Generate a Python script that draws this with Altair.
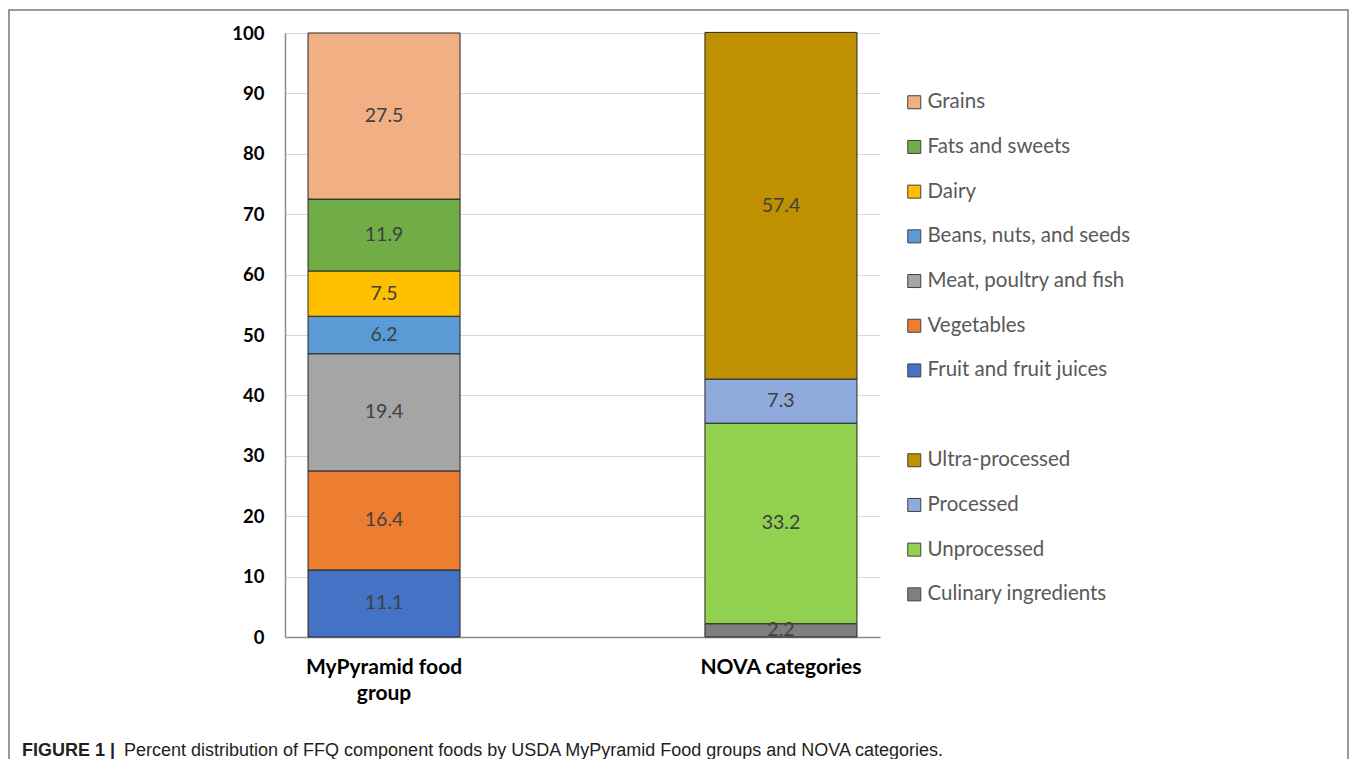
import altair as alt
import pandas as pd

# ---- data -------------------------------------------------------------
bar_labels = ["MyPyramid food group", "NOVA categories"]

pyr_groups = ["Fruit and fruit juices", "Vegetables", "Meat, poultry and fish",
              "Beans, nuts, and seeds", "Dairy", "Fats and sweets", "Grains"]
pyr_values = [11.1, 16.4, 19.4, 6.2, 7.5, 11.9, 27.5]
pyr_colors = ["#4472C4", "#ED7D31", "#A5A5A5", "#5B9BD5", "#FFC000", "#70AD47", "#F1AF84"]

nova_groups = ["Culinary ingredients", "Unprocessed", "Processed", "Ultra-processed"]
nova_values = [2.2, 33.2, 7.3, 57.4]
nova_colors = ["#7F7F7F", "#92D050", "#8FAADC", "#BF9000"]

y_ticks = [0, 10, 20, 30, 40, 50, 60, 70, 80, 90, 100]

caption_bold = "FIGURE 1 |"
caption_text = ("Percent distribution of FFQ component foods by USDA MyPyramid "
                "Food groups and NOVA categories.")

# ---- tables -------------------------------------------------------------
pyr_df = pd.DataFrame({"bar": bar_labels[0], "group": pyr_groups,
                       "value": pyr_values, "ord": list(range(len(pyr_groups)))})
nova_df = pd.DataFrame({"bar": bar_labels[1], "group": nova_groups,
                        "value": nova_values, "ord": list(range(len(nova_groups)))})
all_df = pd.concat([pyr_df, nova_df], ignore_index=True)

FONT = "Lato"

x_axis = alt.Axis(title=None, labelAngle=0, ticks=False, labelPadding=19,
                  labelFont=FONT, labelFontWeight="bold", labelFontSize=21,
                  labelColor="#000000", labelLineHeight=26,
                  domainColor="#8c8c8c", domainWidth=1.5, grid=False,
                  labelExpr="datum.value == 'MyPyramid food group' ? ['MyPyramid food', 'group'] : datum.value")
y_axis = alt.Axis(title=None, values=y_ticks, ticks=False, labelPadding=21,
                  labelFont=FONT, labelFontWeight="bold", labelFontSize=18.5,
                  labelColor="#000000", domainColor="#8c8c8c", domainWidth=1.5,
                  grid=True, gridColor="#d9d9d9", gridWidth=1)

x_enc = alt.X("bar:N", scale=alt.Scale(domain=bar_labels, paddingInner=0.617,
                                       paddingOuter=0.058), axis=x_axis)
y_scale = alt.Scale(domain=[0, 100], nice=False)


def legend(y):
    return alt.Legend(orient="none", legendX=619, legendY=y, title=None,
                      symbolType="square", symbolSize=169,
                      symbolStrokeColor="#404040", symbolStrokeWidth=1,
                      labelFont=FONT, labelFontSize=20.5, labelColor="#595959",
                      labelOffset=3, rowPadding=23.7, labelLimit=400)


pyr_bars = alt.Chart(pyr_df).mark_bar(stroke="#262626", strokeWidth=1).encode(
    x=x_enc,
    y=alt.Y("value:Q", stack="zero", scale=y_scale, axis=y_axis),
    order=alt.Order("ord:Q"),
    color=alt.Color("group:N",
                    scale=alt.Scale(domain=pyr_groups[::-1], range=pyr_colors[::-1]),
                    legend=legend(59)),
)

nova_bars = alt.Chart(nova_df).mark_bar(stroke="#262626", strokeWidth=1).encode(
    x=x_enc,
    y=alt.Y("value:Q", stack="zero", scale=y_scale, axis=y_axis),
    order=alt.Order("ord:Q"),
    color=alt.Color("group:N",
                    scale=alt.Scale(domain=nova_groups[::-1], range=nova_colors[::-1]),
                    legend=legend(417)),
)

labels = alt.Chart(all_df).transform_stack(
    stack="value", groupby=["bar"], sort=[alt.SortField("ord")], as_=["v0", "v1"]
).transform_calculate(
    mid="(datum.v0 + datum.v1) / 2"
).mark_text(font=FONT, fontSize=19.5, color="#404040", baseline="middle").encode(
    x=x_enc,
    y=alt.Y("mid:Q", scale=y_scale, axis=y_axis),
    text=alt.Text("value:Q", format=".1f"),
)

cap_df = pd.DataFrame({"a": [caption_bold], "b": [caption_text]})
cap1 = alt.Chart(cap_df).mark_text(
    font="Liberation Sans", fontWeight="bold", fontSize=18, color="#231f20",
    align="left", baseline="alphabetic"
).encode(x=alt.value(-263), y=alt.value(723), text="a:N")
cap2 = alt.Chart(cap_df).mark_text(
    font="Liberation Sans", fontSize=18, color="#231f20",
    align="left", baseline="alphabetic"
).encode(x=alt.value(-161), y=alt.value(723), text="b:N")

frame = alt.Chart(cap_df).mark_rect(
    fill="transparent", stroke="#7a7a7a", strokeWidth=1.5
).encode(x=alt.value(-276), x2=alt.value(1063), y=alt.value(-23), y2=alt.value(800))

chart = alt.layer(frame, pyr_bars, nova_bars, labels, cap1, cap2).resolve_scale(
    color="independent"
).properties(
    width=595, height=604,
    autosize=alt.AutoSizeParams(type="none"),
    padding={"left": 277, "top": 25, "right": 470, "bottom": 122},
).configure_view(stroke=None)

chart.save("out.html", embed_options={"renderer": "svg", "actions": False})
